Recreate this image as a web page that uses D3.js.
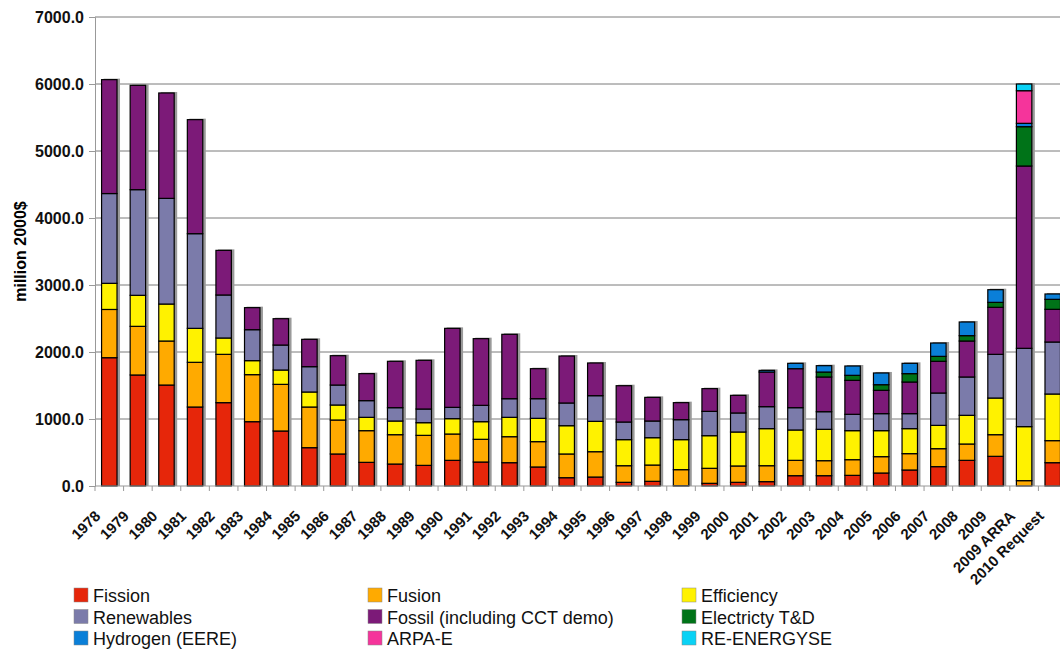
<!DOCTYPE html>
<html>
<head>
<meta charset="utf-8">
<script src="https://cdn.jsdelivr.net/npm/d3@7"></script>
<style>
  body { margin: 0; background: #fff; }
  svg { font-family: "Liberation Sans", Arial, sans-serif; }
  .y.axis text, .x.axis text { font-weight: bold; fill: #111; }
  .axis path, .axis line { stroke: #999; }
</style>
</head>
<body>
<div id="vis"></div>
<script>
// categories (fiscal years)
const categories = ["1978","1979","1980","1981","1982","1983","1984","1985","1986","1987",
  "1988","1989","1990","1991","1992","1993","1994","1995","1996","1997","1998","1999",
  "2000","2001","2002","2003","2004","2005","2006","2007","2008","2009","2009 ARRA","2010 Request"];

// series values, million 2000$
const fission     = [1915,1657,1507,1179,1244,960,821,572,478,353,328,308,383,358,348,284,124,134,55,70,5,40,55,65,154,154,159,194,239,289,383,443,0,348];
const fusion      = [720,726,657,667,721,702,696,607,507,473,438,448,393,339,388,378,354,378,248,243,239,224,244,238,229,224,234,244,244,268,244,323,80,329];
const efficiency  = [390,463,552,507,244,209,214,224,224,199,204,189,229,263,289,348,422,453,389,408,448,487,507,553,453,468,433,388,373,348,428,547,806,696];
const renewables  = [1340,1577,1577,1413,642,462,373,378,298,249,199,204,169,244,278,293,339,383,263,249,298,363,284,328,333,263,244,254,224,483,572,652,1169,776];
const fossil      = [1700,1557,1573,1702,666,329,393,408,438,403,692,727,1179,995,961,448,701,488,542,353,254,339,263,517,582,518,507,348,472,473,537,702,2721,488];
const electricity = [0,0,0,0,0,0,0,0,0,0,0,0,0,0,0,0,0,0,0,0,0,0,0,0,0,74,75,84,125,74,80,74,587,149];
const hydrogen    = [0,0,0,0,0,0,0,0,0,0,0,0,0,0,0,0,0,0,0,0,0,0,0,25,80,95,139,175,154,199,204,189,50,80];
const arpae       = [0,0,0,0,0,0,0,0,0,0,0,0,0,0,0,0,0,0,0,0,0,0,0,0,0,0,0,0,0,0,0,0,487,0];
const reEnergyse  = [0,0,0,0,0,0,0,0,0,0,0,0,0,0,0,0,0,0,0,0,0,0,0,0,0,0,0,0,0,0,0,0,100,0];

const seriesNames = ["Fission","Fusion","Efficiency","Renewables","Fossil (including CCT demo)",
  "Electricty T&D","Hydrogen (EERE)","ARPA-E","RE-ENERGYSE"];
const seriesValues = [fission, fusion, efficiency, renewables, fossil, electricity, hydrogen, arpae, reEnergyse];
const seriesColors = ["#e6260a","#ffaa00","#fff200","#7b7baa","#7c1a78","#007318","#0a7fd8","#f5349b","#0ad2f5"];

const yTicks = [0,1000,2000,3000,4000,5000,6000,7000];

const W = 1060, H = 650;
const plot = { left: 95, top: 17, right: 1067, bottom: 486 };

const svg = d3.select("#vis").append("svg").attr("width", W).attr("height", H);

// Scales setup
const x = d3.scaleBand().domain(categories).range([plot.left, plot.right]).paddingInner(0.46).paddingOuter(0.23);
const y = d3.scaleLinear().domain([0, 7000]).range([plot.bottom, plot.top]);

// gridlines
svg.append("g").selectAll("line").data(yTicks.filter(d => d > 0)).join("line")
  .attr("x1", plot.left).attr("x2", plot.right)
  .attr("y1", d => y(d)).attr("y2", d => y(d))
  .attr("stroke", "#7a7a7a").attr("stroke-width", 1);

// build table for the stack
const table = categories.map((c, i) => {
  const row = { cat: c };
  seriesNames.forEach((s, k) => row[s] = seriesValues[k][i]);
  return row;
});
const stacked = d3.stack().keys(seriesNames)(table);
const totals = categories.map((c, i) => d3.sum(seriesValues, s => s[i]));

// shadow behind each bar (the excel-ish drop shadow)
svg.append("g").selectAll("rect").data(categories).join("rect")
  .attr("x", d => x(d) + 2)
  .attr("width", x.bandwidth() + 1)
  .attr("y", (d, i) => y(totals[i]) - 1)
  .attr("height", (d, i) => y(0) - y(totals[i]) + 1)
  .attr("fill", "#9a9a9a");

// bars
const layer = svg.append("g").selectAll("g").data(stacked).join("g")
  .attr("fill", (d, i) => seriesColors[i]);
layer.selectAll("rect").data(d => d.filter(p => p[1] - p[0] > 0)).join("rect")
  .attr("x", d => x(d.data.cat))
  .attr("width", x.bandwidth())
  .attr("y", d => y(d[1]))
  .attr("height", d => y(d[0]) - y(d[1]))
  .attr("stroke", "#000")
  .attr("stroke-width", 1.2);

// y axis
const yAxis = d3.axisLeft(y).tickValues(yTicks).tickFormat(d3.format(".1f")).tickSize(6).tickPadding(5);
const gY = svg.append("g").attr("class", "y axis").attr("transform", `translate(${plot.left},0)`).call(yAxis);
gY.selectAll("text").style("font-size", "16px");

// x axis, ticks on band boundaries
const gX = svg.append("g").attr("class", "x axis").attr("transform", `translate(0,${plot.bottom})`);
gX.append("line").attr("x1", plot.left).attr("x2", plot.right).attr("stroke", "#999");
gX.selectAll(".bt").data(categories).join("line").attr("class", "bt")
  .attr("x1", d => x(d) - x.step() * 0.23).attr("x2", d => x(d) - x.step() * 0.23)
  .attr("y1", 0).attr("y2", 5).attr("stroke", "#888");
gX.selectAll("text").data(categories).join("text")
  .attr("transform", d => `translate(${x(d) + x.bandwidth() / 2 - 8},31) rotate(-45)`)
  .attr("text-anchor", "end")
  .style("font-size", "15px")
  .text(d => d);

// y axis title
svg.append("text")
  .attr("transform", `translate(26,${(plot.top + plot.bottom) / 2}) rotate(-90)`)
  .attr("text-anchor", "middle")
  .style("font-weight", "bold").style("font-size", "16px")
  .text("million 2000$");

// legend
const legendCols = [74, 368, 682];
const legend = svg.append("g").selectAll("g").data(seriesNames).join("g")
  .attr("transform", (d, i) => `translate(${legendCols[i % 3]},${588 + Math.floor(i / 3) * 21.5})`);
legend.append("rect").attr("width", 14).attr("height", 14)
  .attr("fill", (d, i) => seriesColors[i]).attr("stroke", "#888").attr("stroke-width", 0.5);
legend.append("text").attr("x", 19).attr("y", 14).style("font-size", "18px").attr("fill", "#111").text(d => d);
</script>
</body>
</html>
